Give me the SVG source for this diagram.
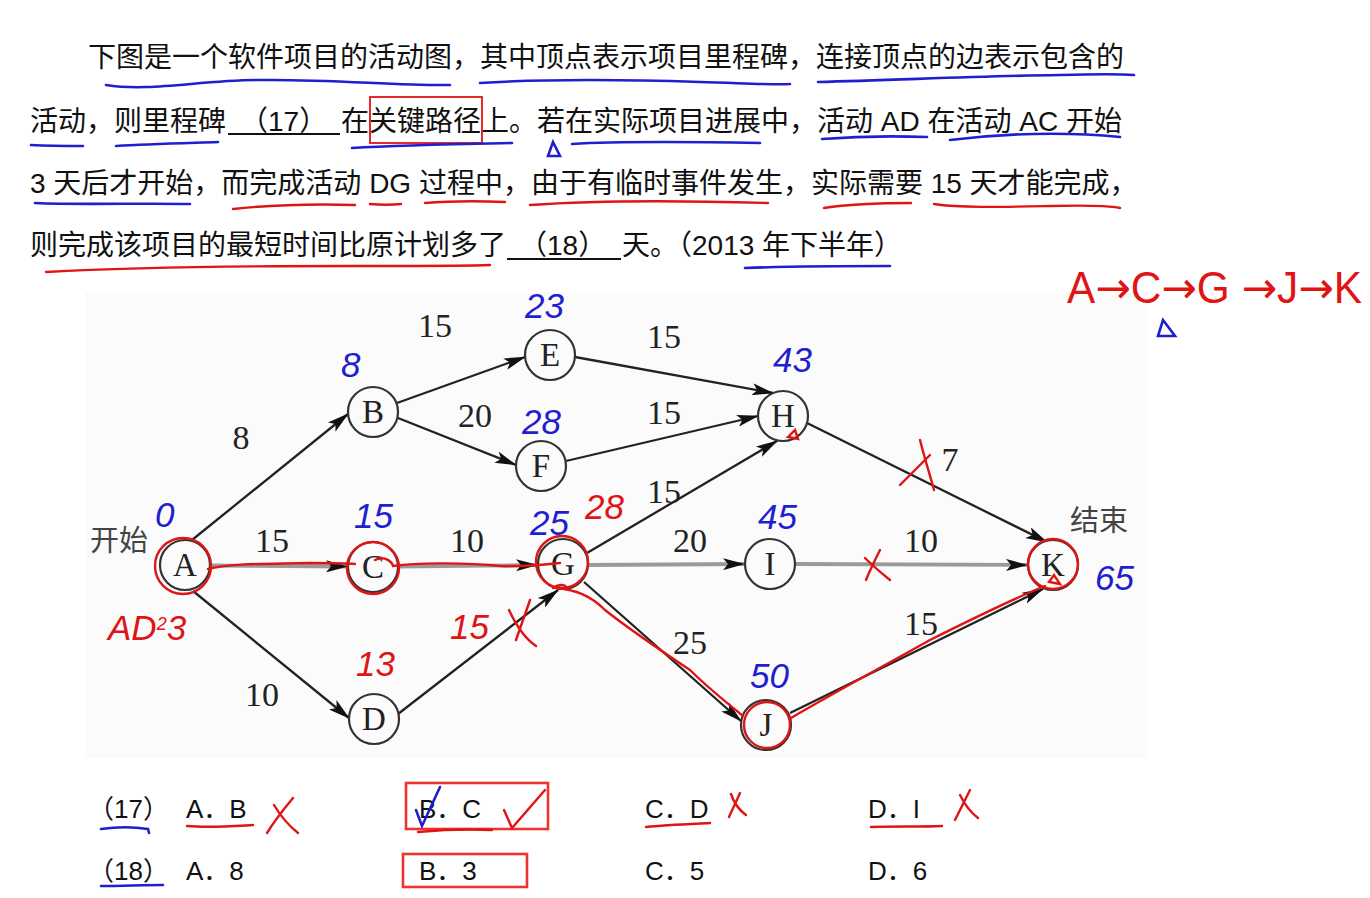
<svg xmlns="http://www.w3.org/2000/svg" width="1370" height="898" viewBox="0 0 1370 898">
<defs>
<marker id="ah" viewBox="0 0 22 12" refX="21" refY="6" markerWidth="22" markerHeight="12" markerUnits="userSpaceOnUse" orient="auto">
<path d="M0,0 L22,6 L0,12 L5,6 Z" fill="#111"/>
</marker>
<style>
.q{font-family:"Liberation Sans","Noto Sans CJK SC",sans-serif;font-size:28px;fill:#111}
.o{font-family:"Liberation Sans","Noto Sans CJK SC",sans-serif;font-size:26px;fill:#111}
.nd circle{fill:#fbfbfb;stroke:#333;stroke-width:2.2}
.nd text{font-family:"Liberation Serif",serif;font-size:33px;fill:#222;text-anchor:middle}
.ew{font-family:"Liberation Serif",serif;font-size:34px;fill:#222;text-anchor:middle}
.cn{font-family:"Noto Sans CJK SC",sans-serif;font-size:29px;fill:#444}
.dk{stroke:#222;stroke-width:2.3;fill:none}
.gr{stroke:#9a9a9a;stroke-width:3.8;fill:none}
.bl{stroke:#1f1fd0;stroke-width:2.6;fill:none;stroke-linecap:round}
.rd{stroke:#e01414;stroke-width:2.4;fill:none;stroke-linecap:round}
.hb{font-family:"Liberation Sans",sans-serif;font-style:italic;font-size:35px;fill:#1f1fd0}
.hr{font-family:"Liberation Sans",sans-serif;font-style:italic;font-size:35px;fill:#e01414}
.ar{font-family:"DejaVu Sans",sans-serif;font-size:44px}
.box{fill:none;stroke:#ee3333;stroke-width:2.6}
</style>
</defs>
<rect width="1370" height="898" fill="#ffffff"/>
<rect x="85" y="292" width="1063" height="466" fill="#fbfbfb"/>

<!-- question text -->
<g id="question">
<text class="q" x="88" y="67">下图是一个软件项目的活动图，其中顶点表示项目里程碑，连接顶点的边表示包含的</text>
<text class="q" x="30" y="131">活动，则里程碑</text>
<text class="q" x="240" y="131">（17）</text>
<line x1="228" y1="134" x2="340" y2="134" stroke="#111" stroke-width="2"/>
<text class="q" x="341" y="131">在关键路径上。若在实际项目进展中，活动 AD 在活动 AC 开始</text>
<text class="q" x="30" y="193">3 天后才开始，而完成活动 DG 过程中，由于有临时事件发生，实际需要 15 天才能完成，</text>
<text class="q" x="30" y="255">则完成该项目的最短时间比原计划多了</text>
<text class="q" x="519" y="255">（18）</text>
<line x1="507" y1="259" x2="621" y2="259" stroke="#111" stroke-width="2"/>
<text class="q" x="622" y="255">天。（2013 年下半年）</text>
</g>

<!-- annotations on question -->
<g id="text-marks">
<rect x="370" y="97" width="112" height="46" fill="none" stroke="#e01414" stroke-width="1.8"/>
<path class="bl" d="M106,85 C150,92 200,80 260,80 C330,79 400,86 450,85"/>
<path class="bl" d="M480,83 C560,78 640,80 700,82 C740,83 770,85 790,84"/>
<path class="bl" d="M818,82 C900,80 980,76 1060,75 C1100,74 1120,74 1134,75"/>
<path class="bl" d="M31,145 C50,146 70,146 83,146"/>
<path class="bl" d="M116,146 C150,144 190,143 218,142"/>
<path class="bl" d="M352,148 C400,145 460,144 512,143"/>
<path class="bl" d="M572,144 C620,141 700,142 760,143"/>
<path class="bl" d="M822,139 C860,136 900,136 927,137"/>
<path class="bl" d="M950,140 C1000,134 1060,131 1120,137"/>
<path class="bl" d="M548,156 L553,142 L560,156 Z" stroke-width="2.2"/>
<path class="bl" d="M35,203 C80,205 140,203 190,204"/>
<path class="rd" d="M233,209 C270,205 320,204 355,205"/>
<path class="rd" d="M370,204 C380,205 392,205 401,204"/>
<path class="rd" d="M425,203 C450,201 480,201 505,202"/>
<path class="rd" d="M530,205 C600,200 700,201 768,203"/>
<path class="rd" d="M824,208 C850,204 890,203 911,203"/>
<path class="rd" d="M934,204 C960,208 1000,207 1050,206 C1090,205 1110,206 1120,208"/>
<path class="rd" d="M46,272 C120,268 250,266 350,266 C420,266 470,266 490,265"/>
<path class="bl" d="M745,268 C800,266 860,266 890,266"/>
</g>

<!-- critical path note -->
<g id="note">
<text x="1067" y="303" font-family="Liberation Sans, DejaVu Sans, sans-serif" font-size="44" fill="#e01414" textLength="295" lengthAdjust="spacingAndGlyphs">A<tspan class="ar">→</tspan>C<tspan class="ar">→</tspan>G <tspan class="ar">→</tspan>J<tspan class="ar">→</tspan>K</text>
<path class="bl" d="M1158,336 L1163,320 L1175,336 Z" stroke-width="2.2"/>
</g>

<!-- connectors -->
<g id="connectors">
<line class="dk" x1="192" y1="540" x2="348" y2="414" marker-end="url(#ah)"/>
<line class="gr" x1="210" y1="565.5" x2="347" y2="566.5" marker-end="url(#ah)"/>
<line class="dk" x1="193" y1="591" x2="349" y2="718" marker-end="url(#ah)"/>
<line class="dk" x1="397" y1="403" x2="525" y2="357" marker-end="url(#ah)"/>
<line class="dk" x1="398" y1="418" x2="516" y2="465" marker-end="url(#ah)"/>
<line class="gr" x1="399" y1="566.5" x2="537" y2="565" marker-end="url(#ah)"/>
<line class="dk" x1="398" y1="714" x2="558" y2="590" marker-end="url(#ah)"/>
<line class="dk" x1="575" y1="357" x2="773" y2="393" marker-end="url(#ah)"/>
<line class="dk" x1="566" y1="461" x2="758" y2="416" marker-end="url(#ah)"/>
<line class="dk" x1="587" y1="553" x2="777" y2="441" marker-end="url(#ah)"/>
<line class="gr" x1="589" y1="565" x2="744" y2="564" marker-end="url(#ah)"/>
<line class="dk" x1="584" y1="582" x2="741" y2="721" marker-end="url(#ah)"/>
<line class="dk" x1="807" y1="423" x2="1047" y2="542" marker-end="url(#ah)"/>
<line class="gr" x1="796" y1="564" x2="1027" y2="565" marker-end="url(#ah)"/>
<line class="dk" x1="790" y1="713" x2="1043" y2="589" marker-end="url(#ah)"/>
<text class="ew" x="435" y="337">15</text>
<text class="ew" x="241" y="449">8</text>
<text class="ew" x="475" y="427">20</text>
<text class="ew" x="664" y="348">15</text>
<text class="ew" x="664" y="424">15</text>
<text class="ew" x="664" y="503">15</text>
<text class="ew" x="950" y="471">7</text>
<text class="ew" x="272" y="552">15</text>
<text class="ew" x="467" y="552">10</text>
<text class="ew" x="690" y="552">20</text>
<text class="ew" x="921" y="552">10</text>
<text class="ew" x="690" y="654">25</text>
<text class="ew" x="921" y="635">15</text>
<text class="ew" x="262" y="706">10</text>
<text class="cn" x="90" y="551">开始</text>
<text class="cn" x="1070" y="531">结束</text>
</g>

<!-- nodes -->
<g id="node-A" class="nd"><circle cx="185" cy="565" r="25"/><text x="185" y="576">A</text></g>
<g id="node-B" class="nd"><circle cx="373" cy="412" r="25"/><text x="373" y="423">B</text></g>
<g id="node-C" class="nd"><circle cx="373" cy="567" r="25"/><text x="373" y="578">C</text></g>
<g id="node-D" class="nd"><circle cx="374" cy="719" r="25"/><text x="374" y="730">D</text></g>
<g id="node-E" class="nd"><circle cx="550" cy="355" r="25"/><text x="550" y="366">E</text></g>
<g id="node-F" class="nd"><circle cx="541" cy="466" r="25"/><text x="541" y="477">F</text></g>
<g id="node-G" class="nd"><circle cx="563" cy="564" r="25"/><text x="563" y="575">G</text></g>
<g id="node-H" class="nd"><circle cx="783" cy="416" r="25"/><text x="783" y="427">H</text></g>
<g id="node-I" class="nd"><circle cx="770" cy="564" r="25"/><text x="770" y="575">I</text></g>
<g id="node-J" class="nd"><circle cx="766" cy="725" r="25"/><text x="766" y="736">J</text></g>
<g id="node-K" class="nd"><circle cx="1053" cy="565" r="25"/><text x="1053" y="576">K</text></g>

<!-- handwritten annotations on graph -->
<g id="graph-marks">
<text class="hb" x="155" y="527" font-style="normal">0</text>
<text class="hb" x="341" y="377">8</text>
<text class="hb" x="525" y="318">23</text>
<text class="hb" x="522" y="434">28</text>
<text class="hb" x="354" y="528">15</text>
<text class="hb" x="530" y="535">25</text>
<text class="hb" x="773" y="372">43</text>
<text class="hb" x="758" y="529">45</text>
<text class="hb" x="750" y="688">50</text>
<text class="hb" x="1095" y="590">65</text>
<text class="hr" x="585" y="519">28</text>
<text class="hr" x="108" y="640">AD<tspan font-size="18" dy="-10">2</tspan><tspan dy="10">3</tspan></text>
<text class="hr" x="356" y="676">13</text>
<text class="hr" x="450" y="639">15</text>
<path class="rd" d="M509,610 C516,625 524,638 536,646 M530,600 C525,615 520,628 516,640"/>
<path class="rd" d="M900,485 C910,475 920,465 930,455 M920,440 C925,460 930,475 934,490"/>
<path class="rd" d="M865,558 C872,565 880,572 890,580 M880,550 C875,560 870,570 866,580"/>
<circle class="rd" cx="183" cy="566" r="28"/>
<circle class="rd" cx="373" cy="568" r="26"/>
<circle class="rd" cx="562" cy="562" r="26"/>
<circle class="rd" cx="767" cy="725" r="23"/>
<circle class="rd" cx="1053" cy="564" r="25"/>
<path class="rd" d="M208,569 C230,563 270,564 310,563 C330,563 345,563 355,564"/>
<path class="rd" d="M375,560 C385,555 392,562 393,566 C420,562 470,563 500,566 C520,567 540,565 560,563"/>
<path class="rd" d="M557,588 C575,590 590,595 605,610 C630,630 660,650 690,670 C710,690 730,705 743,716"/>
<path class="rd" d="M553,588 C560,583 568,585 566,589"/>
<path class="rd" d="M791,718 C830,695 880,668 930,640 C970,620 1010,600 1045,586"/>
<path class="rd" d="M788,437 L795,430 L798,439 Z" stroke-width="2"/>
<path class="rd" d="M1049,582 L1054,575 L1060,584 Z" stroke-width="2"/>
</g>

<!-- options -->
<g id="options">
<text class="o" x="88" y="818">（17）</text>
<text class="o" x="186" y="818">A．B</text>
<text class="o" x="419" y="818">B．C</text>
<text class="o" x="645" y="818">C．D</text>
<text class="o" x="868" y="818">D．I</text>
<text class="o" x="88" y="880">（18）</text>
<text class="o" x="186" y="880">A．8</text>
<text class="o" x="419" y="880">B．3</text>
<text class="o" x="645" y="880">C．5</text>
<text class="o" x="868" y="880">D．6</text>
<rect class="box" x="406" y="783" width="142" height="46"/>
<rect class="box" x="403" y="854" width="124" height="33"/>
<path class="bl" d="M101,829 C115,827 135,827 148,829 L149,833"/>
<path class="bl" d="M101,886 C120,886 145,885 163,885"/>
<path class="bl" d="M416,810 L422,826 L440,787"/>
<path class="rd" d="M187,826 C210,828 235,826 253,825"/>
<path class="rd" d="M418,832 C440,830 470,829 492,830"/>
<path class="rd" d="M646,827 C665,825 690,824 710,823"/>
<path class="rd" d="M871,827 C895,826 920,827 942,826"/>
<path class="rd" d="M267,833 C275,820 283,810 293,798 M274,805 C280,815 288,825 298,833"/>
<path class="rd" d="M504,810 L512,828 L545,790"/>
<path class="rd" d="M729,817 C733,808 737,800 740,793 M731,794 C734,803 739,810 746,815"/>
<path class="rd" d="M955,820 C960,810 965,800 970,790 M960,795 C965,805 970,812 978,818"/>
</g>
</svg>
